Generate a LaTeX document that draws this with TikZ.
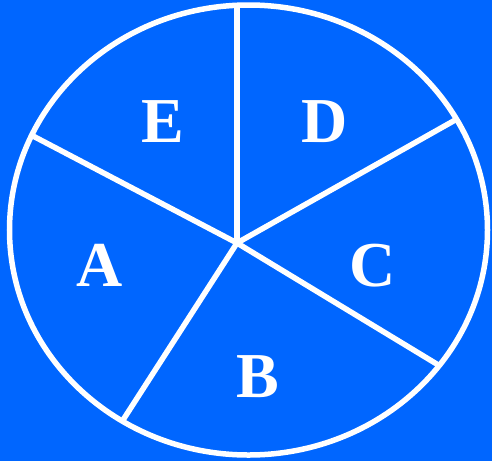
\documentclass[tikz,border=0pt]{standalone}
\usepackage{fontspec}
\setmainfont{Liberation Serif}
\usetikzlibrary{calc}
\definecolor{bgblue}{RGB}{0,102,255}
\tikzset{
  rim/.style={draw=white, line width=5.5pt},
  spoke/.style={draw=white, line width=5.5pt},
  lab/.style={text=white, font=\fontsize{64}{64}\selectfont\bfseries, inner sep=0pt, anchor=center}
}
\begin{document}
\begin{tikzpicture}[x=1pt,y=-1pt]
\fill[bgblue] (0,0) rectangle (492,461);
\useasboundingbox (0,0) rectangle (492,461);
\coordinate (hub) at (237,243);
\coordinate (pTop) at (237,5);
\coordinate (pUR) at (457,119);
\coordinate (pLR) at (440,366);
\coordinate (pBL) at (123,420);
\coordinate (pUL) at (33,136);
\begin{scope}
\clip (248.5,230) ellipse [x radius=239, y radius=225];
\draw[spoke] (hub) -- ($(hub)!1.05!(pTop)$);
\draw[spoke] (hub) -- ($(hub)!1.05!(pUR)$);
\draw[spoke] (hub) -- ($(hub)!1.05!(pLR)$);
\draw[spoke] (hub) -- ($(hub)!1.05!(pBL)$);
\draw[spoke] (hub) -- ($(hub)!1.05!(pUL)$);
\end{scope}
\draw[rim] (248.5,230) ellipse [x radius=239, y radius=225];
\node[lab] (E) at (163,121.5) {E};
\node[lab] (D) at (324.5,122) {D};
\node[lab] (C) at (373,266) {C};
\node[lab] (A) at (100,265) {A};
\node[lab] (B) at (258,377) {B};
\end{tikzpicture}
\end{document}
